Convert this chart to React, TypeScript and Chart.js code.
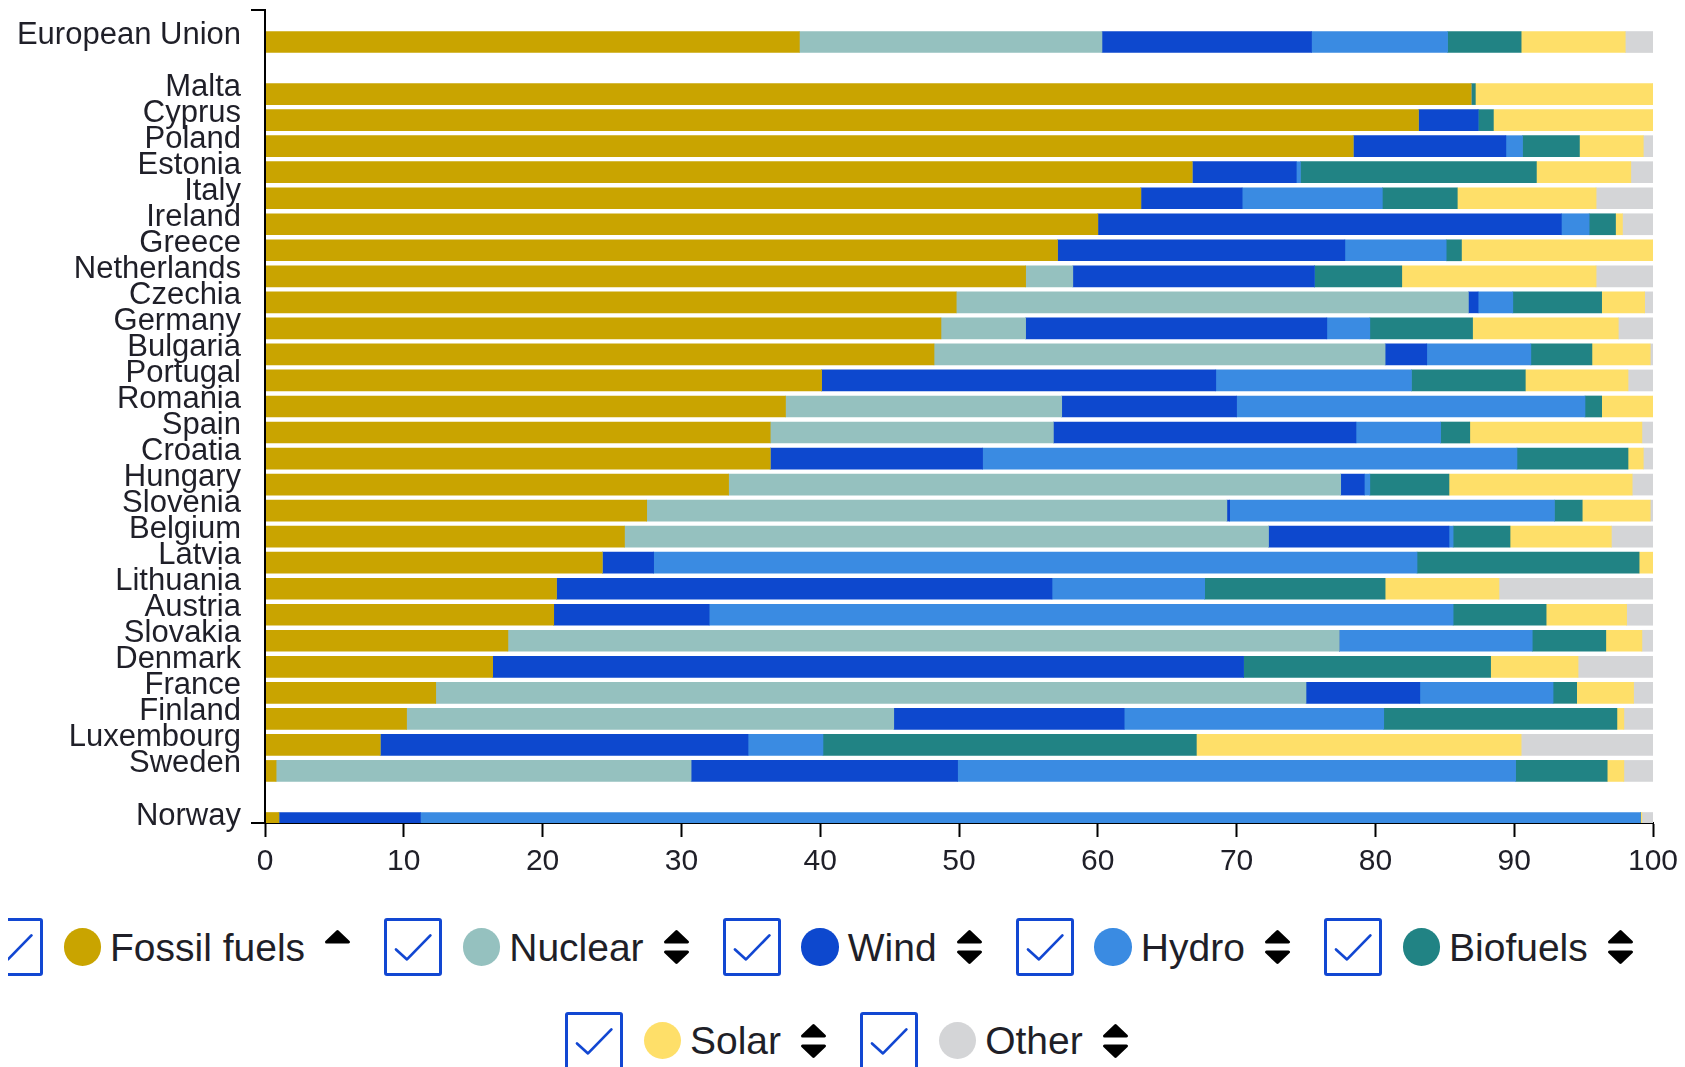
import React, { useEffect, useRef } from "react";
import { Chart, registerables } from "chart.js";

Chart.register(...registerables);

// ---------- DATA ----------
const countries = [
  "European Union",
  "Malta", "Cyprus", "Poland", "Estonia", "Italy", "Ireland", "Greece", "Netherlands",
  "Czechia", "Germany", "Bulgaria", "Portugal", "Romania", "Spain", "Croatia", "Hungary",
  "Slovenia", "Belgium", "Latvia", "Lithuania", "Austria", "Slovakia", "Denmark", "France",
  "Finland", "Luxembourg", "Sweden",
  "Norway",
];

const fossil = [38.5, 86.9, 83.1, 78.4, 66.8, 63.1, 60.0, 57.1, 54.8, 49.8, 48.7, 48.2, 40.1, 37.5, 36.4, 36.4, 33.4, 27.5, 25.9, 24.3, 21.0, 20.8, 17.5, 16.4, 12.3, 10.2, 8.3, 0.8, 1.0];
const nuclear = [21.8, 0, 0, 0, 0, 0, 0, 0, 3.4, 36.9, 6.1, 32.5, 0, 19.9, 20.4, 0, 44.1, 41.8, 46.4, 0, 0, 0, 59.9, 0, 62.7, 35.1, 0, 29.9, 0];
const wind = [15.1, 0, 4.3, 11.0, 7.5, 7.3, 33.4, 20.7, 17.4, 0.7, 21.7, 3.0, 28.4, 12.6, 21.8, 15.3, 1.7, 0.2, 13.0, 3.7, 35.7, 11.2, 0, 54.1, 8.2, 16.6, 26.5, 19.2, 10.2];
const hydro = [9.8, 0, 0, 1.2, 0.3, 10.1, 2.0, 7.3, 0, 2.5, 3.1, 7.5, 14.1, 25.1, 6.1, 38.5, 0.4, 23.4, 0.3, 55.0, 11.0, 53.6, 13.9, 0, 9.6, 18.7, 5.4, 40.2, 87.9];
const biofuels = [5.3, 0.3, 1.1, 4.1, 17.0, 5.4, 1.9, 1.1, 6.3, 6.4, 7.4, 4.4, 8.2, 1.2, 2.1, 8.0, 5.7, 2.0, 4.1, 16.0, 13.0, 6.7, 5.3, 17.8, 1.7, 16.8, 26.9, 6.6, 0];
const solar = [7.5, 12.8, 11.5, 4.6, 6.8, 10.0, 0.5, 13.8, 14.0, 3.1, 10.5, 4.2, 7.4, 3.7, 12.4, 1.1, 13.2, 4.9, 7.3, 1.0, 8.2, 5.8, 2.6, 6.3, 4.1, 0.5, 23.4, 1.2, 0.1];
const other = [2.0, 0, 0, 0.7, 1.6, 4.1, 2.2, 0, 4.1, 0.6, 2.5, 0.2, 1.8, 0, 0.8, 0.7, 1.5, 0.2, 3.0, 0, 11.1, 1.9, 0.8, 5.4, 1.4, 2.1, 9.5, 2.1, 0.8];

const seriesNames = ["Fossil fuels", "Nuclear", "Wind", "Hydro", "Biofuels", "Solar", "Other"];
const seriesValues = [fossil, nuclear, wind, hydro, biofuels, solar, other];
const seriesColors = ["#C9A400", "#95C1BF", "#0D48CE", "#3A8BE2", "#218384", "#FEDF69", "#D4D5D7"];
const sortState = ["up", "both", "both", "both", "both", "both", "both"];

const xTicks = [0, 10, 20, 30, 40, 50, 60, 70, 80, 90, 100];

// rows: blank, EU, blank, 27 members, blank, Norway
function toRows<T>(arr: T[], blank: T): T[] {
  return [blank, arr[0], blank, ...arr.slice(1, 28), blank, arr[28]];
}

const TEXT = "#1f1f28";
const FONT = "'Liberation Sans', Arial, Helvetica, sans-serif";
const BLUE = "#1247D2";

const axisDomain = {
  id: "axisDomain",
  afterDraw(chart: any) {
    const { ctx, chartArea: a } = chart;
    ctx.save();
    ctx.strokeStyle = "#000";
    ctx.lineWidth = 2;
    ctx.beginPath();
    ctx.moveTo(a.left - 14, a.top - 6);
    ctx.lineTo(a.left, a.top - 6);
    ctx.lineTo(a.left, a.bottom);
    ctx.lineTo(a.left - 14, a.bottom);
    ctx.stroke();
    ctx.restore();
  },
};

function Arrows({ up, down }: { up: boolean; down: boolean }) {
  return (
    <svg width={27} height={36} viewBox="0 0 27 36" style={{ display: "block" }}>
      {up && (
        <polygon points="2.5,13 13.5,2.5 24.5,13" fill="#000" stroke="#000" strokeWidth={3} strokeLinejoin="round" />
      )}
      {down && (
        <polygon points="2.5,23 13.5,33.5 24.5,23" fill="#000" stroke="#000" strokeWidth={3} strokeLinejoin="round" />
      )}
    </svg>
  );
}

function LegendItem({ i }: { i: number }) {
  return (
    <div style={{ display: "flex", alignItems: "center", marginRight: 33.2, flex: "none" }}>
      <div
        style={{
          width: 58,
          height: 58,
          boxSizing: "border-box",
          border: `3.3px solid ${BLUE}`,
          borderRadius: 3,
          marginRight: 20.6,
          flex: "none",
        }}
      >
        <svg width={51} height={51} viewBox="0 0 51 51" style={{ display: "block" }}>
          <polyline points="9,28.4 20,38.4 43.4,14.4" fill="none" stroke={BLUE} strokeWidth={2.7} strokeLinecap="round" strokeLinejoin="round" />
        </svg>
      </div>
      <div
        style={{
          width: 37.4,
          height: 37.4,
          borderRadius: "50%",
          background: seriesColors[i],
          marginRight: 9,
          flex: "none",
        }}
      />
      <span style={{ font: `39px ${FONT}`, lineHeight: 1, color: TEXT, marginRight: 19, whiteSpace: "nowrap" }}>
        {seriesNames[i]}
      </span>
      <Arrows up={true} down={sortState[i] === "both"} />
    </div>
  );
}

export default function App() {
  const canvasRef = useRef<HTMLCanvasElement | null>(null);

  useEffect(() => {
    document.body.style.overflow = "hidden";
    document.documentElement.style.overflow = "hidden";
    const canvas = canvasRef.current;
    if (!canvas) return;
    const labels = toRows<string>(countries, "");
    const chart = new Chart(canvas, {
      type: "bar",
      data: {
        labels,
        datasets: seriesNames.map((name, i) => ({
          label: name,
          data: toRows<number | null>(seriesValues[i], null),
          backgroundColor: seriesColors[i],
          borderWidth: 0,
          barThickness: 21,
          clip: 0,
        })),
      },
      options: {
        indexAxis: "y",
        responsive: false,
        animation: false,
        events: [],
        layout: { padding: { top: 8, right: 24, left: 0, bottom: 0 } },
        plugins: {
          legend: { display: false },
          tooltip: { enabled: false },
          title: { display: false },
        },
        scales: {
          x: {
            type: "linear",
            stacked: true,
            min: 0,
            max: 100,
            afterBuildTicks: (scale: any) => {
              scale.ticks = xTicks.map((v) => ({ value: v }));
            },
            afterFit: (scale: any) => {
              scale.height = 65;
              scale.paddingLeft = 0;
              scale.paddingRight = 0;
            },
            ticks: {
              font: { family: FONT, size: 30 },
              color: TEXT,
              padding: 7,
              maxRotation: 0,
              autoSkip: false,
            },
            grid: {
              display: true,
              drawOnChartArea: false,
              drawTicks: true,
              tickLength: 14,
              tickWidth: 2,
              tickColor: "#000",
            },
            border: { display: true, color: "#000", width: 2 },
          },
          y: {
            type: "category",
            stacked: true,
            offset: false,
            afterFit: (scale: any) => {
              scale.width = 257;
              scale.paddingTop = 0;
              scale.paddingBottom = 0;
            },
            ticks: {
              font: { family: FONT, size: 31 },
              color: TEXT,
              padding: 24,
              labelOffset: -7,
              autoSkip: false,
            },
            grid: { display: false, drawTicks: false },
            border: { display: false },
          },
        },
      },
      plugins: [axisDomain],
    } as any);
    return () => chart.destroy();
  }, []);

  return (
    <div style={{ position: "relative" }}>
      <canvas ref={canvasRef} width={1669} height={880} style={{ display: "block", width: 1669, height: 880 }} />
      <div style={{ display: "flex", marginTop: 30, marginLeft: -23, height: 58, alignItems: "center", whiteSpace: "nowrap" }}>
        {[0, 1, 2, 3, 4].map((i) => (
          <LegendItem key={i} i={i} />
        ))}
      </div>
      <div style={{ display: "flex", marginTop: 35.7, marginLeft: 557, height: 58, alignItems: "center", whiteSpace: "nowrap" }}>
        {[5, 6].map((i) => (
          <LegendItem key={i} i={i} />
        ))}
      </div>
    </div>
  );
}
